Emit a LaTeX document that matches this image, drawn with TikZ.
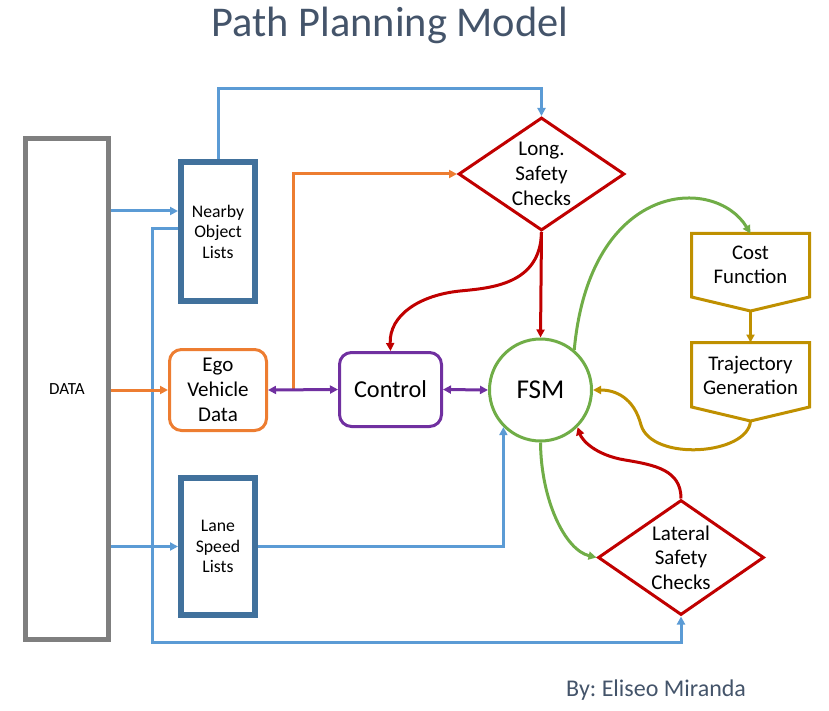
\documentclass[tikz,border=0pt]{standalone}
\usepackage{fontspec}
\setmainfont{Carlito}
\usetikzlibrary{arrows.meta,shapes.geometric}
\definecolor{cblue}{HTML}{5B9BD5}
\definecolor{cdblue}{HTML}{41719C}
\definecolor{corange}{HTML}{ED7D31}
\definecolor{cpurple}{HTML}{7030A0}
\definecolor{cgreen}{HTML}{70AD47}
\definecolor{cred}{HTML}{C00000}
\definecolor{cgold}{HTML}{BF9000}
\definecolor{cgray}{HTML}{7F7F7F}
\definecolor{cslate}{HTML}{44546A}
\tikzset{
  tip/.style={-{Triangle[length=8pt,width=8pt]}},
  dtip/.style={{Triangle[length=8pt,width=8pt]}-{Triangle[length=8pt,width=8pt]}},
  bline/.style={draw=cblue,line width=3pt},
  oline/.style={draw=corange,line width=3pt},
  pline/.style={draw=cpurple,line width=3pt},
  rline/.style={draw=cred,line width=3pt},
  gline/.style={draw=cgreen,line width=3pt},
  yline/.style={draw=cgold,line width=3pt},
  listbox/.style={draw=cdblue,line width=6pt,minimum width=74pt,align=center,inner sep=0pt,font=\fontsize{17.7}{20.5}\selectfont},
  roundbox/.style={rounded corners=12pt,line width=3pt,align=center,inner sep=0pt},
  diam/.style={diamond,draw=cred,line width=3pt,inner sep=0pt,minimum width=166pt,minimum height=113pt},
  dtext/.style={align=center,inner sep=0pt,font=\fontsize{21}{24.7}\selectfont},
}
\begin{document}
\frenchspacing
\begin{tikzpicture}[x=1pt,y=-1pt]
\useasboundingbox (0,0) rectangle (829,711);
% title and byline
\node[anchor=base,text=cslate,font=\fontsize{42.4}{48}\selectfont,inner sep=0pt] (title) at (390,37) {Path Planning Model};
\node[anchor=base west,text=cslate,font=\fontsize{24}{28}\selectfont,inner sep=0pt] (by) at (566,696) {By: Eliseo Miranda};
% boxes
\node[draw=cgray,line width=5pt,minimum width=83pt,minimum height=501pt,inner sep=0pt,font=\fontsize{17}{20}\selectfont] (data) at (67,389) {DATA};
\node[listbox,minimum height=139pt] (nearby) at (218,231.5) {Nearby\\Object\\Lists};
\node[listbox,minimum height=137pt] (lane) at (218,546.5) {Lane\\Speed\\Lists};
\node[roundbox,draw=corange,minimum width=97pt,minimum height=81pt,font=\fontsize{21}{25}\selectfont] (ego) at (218,390) {Ego\\Vehicle\\Data};
\node[roundbox,draw=cpurple,minimum width=102pt,minimum height=74pt,font=\fontsize{24.3}{28}\selectfont] (control) at (390.5,389.5) {Control};
\node[circle,draw=cgreen,line width=3pt,minimum size=102pt,inner sep=0pt,font=\fontsize{27.2}{30}\selectfont] (fsm) at (540.5,390) {FSM};
\node[diam] (long) at (541.5,174) {};
\node[dtext] (longt) at (541.5,174) {Long.\\Safety\\Checks};
\node[diam,minimum height=115pt] (lat) at (681,557.5) {};
\node[dtext] (latt) at (681,557.5) {Lateral\\Safety\\Checks};
% cost function / trajectory generation shapes
\draw[yline,line join=miter] (691.5,233.5) -- (809.5,233.5) -- (809.5,297) -- (750.5,311) -- (691.5,297) -- cycle;
\node[dtext,font=\fontsize{20.8}{24}\selectfont] (cost) at (750.5,265) {Cost\\Function};
\coordinate (costT) at (750.5,233.5);
\coordinate (costB) at (750.5,311);
\draw[yline,line join=miter] (691.5,342.5) -- (809.5,342.5) -- (809.5,407) -- (750.5,421) -- (691.5,407) -- cycle;
\node[dtext,font=\fontsize{20.8}{24}\selectfont] (traj) at (750.5,375) {Trajectory\\Generation};
\coordinate (trajT) at (750.5,342.5);
\coordinate (trajB) at (750.5,421);
% helper coordinates
\coordinate (h1) at (0,211);
\coordinate (h3) at (0,229);
\coordinate (topc) at (380,89);
\coordinate (lb) at (152,642);
\coordinate (ob) at (293,390);
% blue connectors
\draw[bline,tip] (data.east |- h1) -- (nearby.west |- h1);
\draw[bline,tip] (nearby.north) |- (topc) -| (long.north);
\draw[bline,tip] (nearby.west |- h3) -| (lb) -| (lat.south);
\draw[bline,tip] (data.east |- lane.west) -- (lane.west);
\draw[bline,tip] (lane.east) -| (fsm.south west);
% orange
\draw[oline,tip] (data.east |- ego.west) -- (ego.west);
\draw[oline,tip] (ob) |- (long.west);
% purple
\draw[pline,dtip] (ego.east) -- (control.west);
\draw[pline,dtip] (control.east) -- (fsm.west);
% red
\draw[rline,tip] (long.south) -- (fsm.north);
\draw[rline,tip] (long.south) .. controls (540.5,285) and (490,288) .. (460,291) .. controls (420,295) and (389,315) .. (control.north);
\draw[rline,tip] (lat.north) .. controls (681,470) and (655,465) .. (625,460) .. controls (595,455) and (582,440) .. (fsm.-45);
% green
\draw[gline,tip] (fsm.50) .. controls (590,180) and (715,175) .. (costT);
\draw[gline,tip] (fsm.south) .. controls (541,500) and (565,550) .. (lat.west);
% gold
\draw[yline,tip] (costB) -- (trajT);
\draw[yline,tip] (trajB) .. controls (748,455) and (652,462) .. (641,425) .. controls (634,398) and (616,390) .. (fsm.east);
\end{tikzpicture}
\end{document}
